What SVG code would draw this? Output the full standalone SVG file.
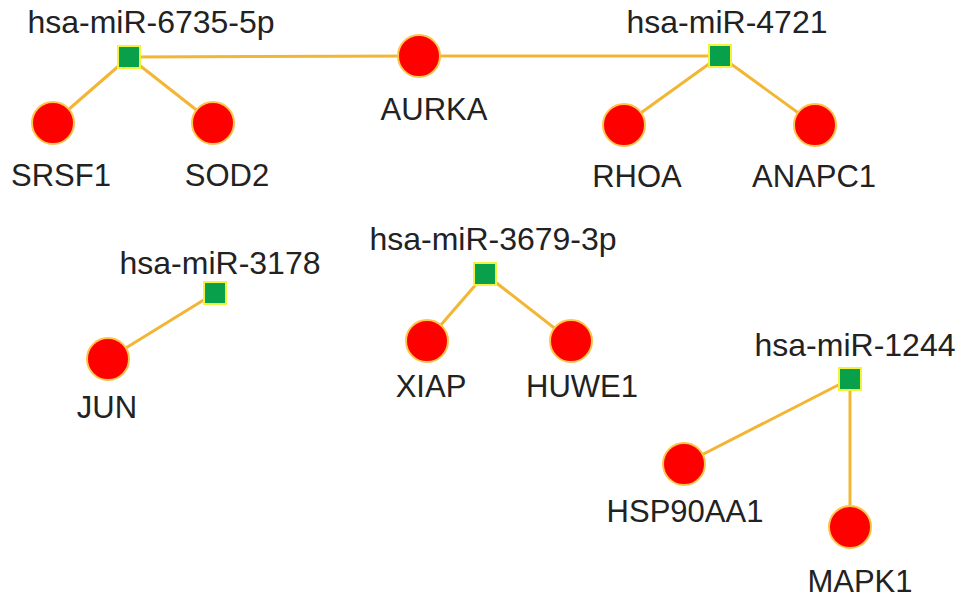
<svg xmlns="http://www.w3.org/2000/svg" width="969" height="606" viewBox="0 0 969 606">
<style>
.edge{stroke:#f2b634;stroke-width:3;fill:none}
.gene{fill:#ff0000;stroke:#ffc44a;stroke-width:2}
.mir{fill:#09a04c;stroke:#f4f23a;stroke-width:2}
.lbl{font-family:"Liberation Sans",Arial,sans-serif;font-size:31px;fill:#222;text-anchor:middle}
.mlbl{font-family:"Liberation Sans",Arial,sans-serif;font-size:32px;fill:#222;text-anchor:middle}
</style>
<rect width="969" height="606" fill="#ffffff"/>
<g id="connectors">
<line class="edge" x1="129" y1="57" x2="419" y2="56"/>
<line class="edge" x1="419" y1="56" x2="720" y2="56"/>
<line class="edge" x1="129" y1="57" x2="53" y2="123"/>
<line class="edge" x1="129" y1="57" x2="213" y2="123"/>
<line class="edge" x1="720" y1="56" x2="624" y2="125"/>
<line class="edge" x1="720" y1="56" x2="815" y2="125"/>
<line class="edge" x1="215" y1="293" x2="108" y2="359"/>
<line class="edge" x1="485" y1="274" x2="427" y2="341"/>
<line class="edge" x1="485" y1="274" x2="571" y2="341"/>
<line class="edge" x1="850" y1="379" x2="684" y2="464"/>
<line class="edge" x1="850" y1="379" x2="850" y2="527"/>
</g>
<g id="mir6735"><rect class="mir" x="118" y="46" width="22" height="22"/><text class="mlbl" x="151" y="33">hsa-miR-6735-5p</text></g>
<g id="mir4721"><rect class="mir" x="709" y="45" width="22" height="22"/><text class="mlbl" x="727" y="33">hsa-miR-4721</text></g>
<g id="mir3178"><rect class="mir" x="204" y="282" width="22" height="22"/><text class="mlbl" x="220" y="274">hsa-miR-3178</text></g>
<g id="mir3679"><rect class="mir" x="474" y="263" width="22" height="22"/><text class="mlbl" x="493" y="250">hsa-miR-3679-3p</text></g>
<g id="mir1244"><rect class="mir" x="839" y="368" width="22" height="22"/><text class="mlbl" x="855" y="356">hsa-miR-1244</text></g>
<g id="SRSF1"><circle class="gene" cx="53" cy="123" r="21"/><text class="lbl" x="61" y="186">SRSF1</text></g>
<g id="SOD2"><circle class="gene" cx="213" cy="123" r="21"/><text class="lbl" x="227" y="186">SOD2</text></g>
<g id="AURKA"><circle class="gene" cx="419" cy="56" r="21"/><text class="lbl" x="434" y="120">AURKA</text></g>
<g id="RHOA"><circle class="gene" cx="624" cy="125" r="21"/><text class="lbl" x="637" y="187">RHOA</text></g>
<g id="ANAPC1"><circle class="gene" cx="815" cy="125" r="21"/><text class="lbl" x="814" y="187">ANAPC1</text></g>
<g id="JUN"><circle class="gene" cx="108" cy="359" r="21"/><text class="lbl" x="107" y="418">JUN</text></g>
<g id="XIAP"><circle class="gene" cx="427" cy="341" r="21"/><text class="lbl" x="431" y="397">XIAP</text></g>
<g id="HUWE1"><circle class="gene" cx="571" cy="341" r="21"/><text class="lbl" x="582" y="397">HUWE1</text></g>
<g id="HSP90AA1"><circle class="gene" cx="684" cy="464" r="21"/><text class="lbl" x="685" y="522">HSP90AA1</text></g>
<g id="MAPK1"><circle class="gene" cx="850" cy="527" r="21"/><text class="lbl" x="860" y="592">MAPK1</text></g>
</svg>
